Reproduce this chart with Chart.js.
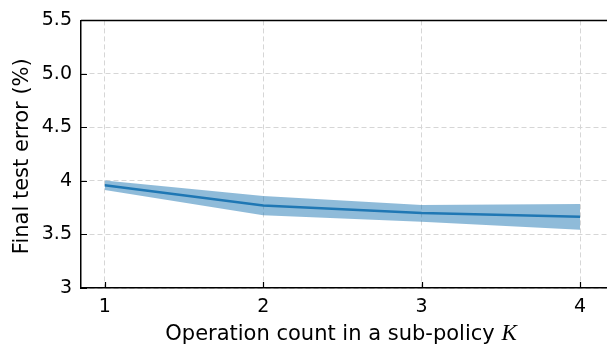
<!DOCTYPE html>
<html>
<head>
<meta charset="utf-8">
<script src="https://cdn.jsdelivr.net/npm/chart.js@4/dist/chart.umd.min.js"></script>
<style>
  body { margin: 0; background: #fff; }
  canvas { display: block; }
</style>
</head>
<body>
<canvas id="chart" width="607" height="348"></canvas>
<script>
// values
const opCounts = [1, 2, 3, 4];
const meanError = [3.96, 3.77, 3.70, 3.665];
const upperError = [4.005, 3.86, 3.775, 3.785];
const lowerError = [3.915, 3.68, 3.62, 3.545];
const yTickLabels = ['3', '3.5', '4', '4.5', '5.0', '5.5'];

const FONT = '"DejaVu Sans", sans-serif';
const KFONT = 'italic 23px "Liberation Serif", "DejaVu Serif", serif';
const blue = '#1f77b4';

function pts(ys) {
    return opCounts.map((x, i) => ({ x: x, y: ys[i] }));
}

// spines, inward ticks and axis titles
const extras = {
    id: 'extras',
    afterDraw(chart) {
        const ctx = chart.ctx;
        const area = chart.chartArea;
        const xs = chart.scales.x;
        const ys = chart.scales.y;
        ctx.save();
        ctx.strokeStyle = '#000';
        ctx.lineWidth = 1.5;
        ctx.beginPath();
        ctx.moveTo(area.left, area.top);
        ctx.lineTo(area.right, area.top);
        ctx.stroke();

        ctx.lineWidth = 1.2;
        ctx.beginPath();
        ys.ticks.forEach(t => {
            const y = Math.round(ys.getPixelForValue(t.value)) + 0.5;
            ctx.moveTo(area.left, y);
            ctx.lineTo(area.left + 6, y);
        });
        xs.ticks.forEach(t => {
            const x = Math.round(xs.getPixelForValue(t.value)) + 0.5;
            ctx.moveTo(x, area.bottom);
            ctx.lineTo(x, area.bottom - 6);
        });
        ctx.stroke();

        ctx.fillStyle = '#000';
        // y title
        ctx.save();
        ctx.translate(23, (area.top + area.bottom) / 2 + 2);
        ctx.rotate(-Math.PI / 2);
        ctx.font = '21px ' + FONT;
        ctx.textAlign = 'center';
        ctx.textBaseline = 'middle';
        ctx.fillText('Final test error (%)', 0, 0);
        ctx.restore();

        // x title with italic K
        const main = 'Operation count in a sub-policy ';
        ctx.font = '21px ' + FONT;
        const w1 = ctx.measureText(main).width;
        ctx.font = KFONT;
        const w2 = ctx.measureText('K').width;
        const x0 = 341 - (w1 + w2) / 2;
        ctx.textBaseline = 'alphabetic';
        ctx.textAlign = 'left';
        ctx.font = '21px ' + FONT;
        ctx.fillText(main, x0, 340);
        ctx.font = KFONT;
        ctx.fillText('K', x0 + w1, 340);
        ctx.restore();
    }
};

new Chart(document.getElementById('chart'), {
    type: 'line',
    data: {
        datasets: [
            {
                label: 'upper',
                data: pts(upperError),
                borderWidth: 0,
                pointRadius: 0,
                backgroundColor: 'rgba(31,119,180,0.5)',
                fill: '+1',
            },
            {
                label: 'lower',
                data: pts(lowerError),
                borderWidth: 0,
                pointRadius: 0,
                fill: false,
            },
            {
                label: 'mean',
                data: pts(meanError),
                borderColor: blue,
                borderWidth: 2.5,
                pointRadius: 0,
                fill: false,
            },
        ],
    },
    options: {
        responsive: false,
        animation: false,
        devicePixelRatio: 1,
        layout: { padding: { top: 13, right: 0, left: 0, bottom: 0 } },
        plugins: {
            legend: { display: false },
            tooltip: { enabled: false },
        },
        scales: {
            x: {
                type: 'linear',
                min: 0.85,
                max: 4.17,
                afterBuildTicks: s => { s.ticks = opCounts.map(v => ({ value: v })); },
                afterFit: s => { s.height = 60; },
                grid: { color: '#d6d6d6', lineWidth: 1, drawTicks: false },
                border: { display: true, color: '#000', width: 1.5, dash: [5, 3] },
                ticks: {
                    padding: 8,
                    color: '#000',
                    font: { family: FONT, size: 19 },
                    callback: v => String(v),
                },
            },
            y: {
                min: 3,
                max: 5.5,
                afterBuildTicks: s => { s.ticks = yTickLabels.map(v => ({ value: parseFloat(v) })); },
                afterFit: s => { s.width = 81; },
                grid: { color: '#d6d6d6', lineWidth: 1, drawTicks: false },
                border: { display: true, color: '#000', width: 1.5, dash: [5, 3] },
                ticks: {
                    padding: 9,
                    color: '#000',
                    font: { family: FONT, size: 19 },
                    callback: (v, i) => yTickLabels[i],
                },
            },
        },
    },
    plugins: [extras],
});
</script>
</body>
</html>
